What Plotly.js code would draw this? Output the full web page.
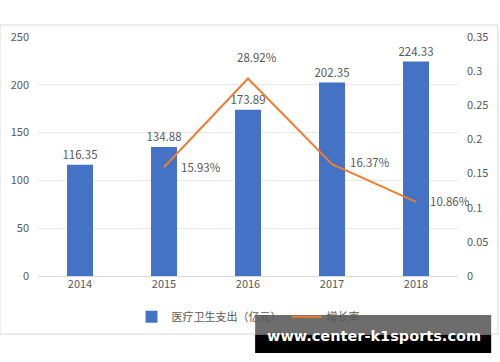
<!DOCTYPE html>
<html><head><meta charset="utf-8">
<script src="https://cdn.plot.ly/plotly-3.0.1.min.js"></script>
<style>html,body{margin:0;padding:0;background:#fff;}#c{width:500px;height:362px;}</style>
</head><body><div id="c"></div>
<script>
const years = ['2014','2015','2016','2017','2018'];
const spending = [116.35, 134.88, 173.89, 202.35, 224.33];
const rateYears = ['2015','2016','2017','2018'];
const growth = [0.1593, 0.2892, 0.1637, 0.1086];
const growthLabels = ['15.93%','28.92%','16.37%','10.86%'];
const barName = '医疗卫生支出（亿元）';
const lineName = '增长率';

const font = {family: '"Noto Sans CJK SC", "Open Sans", sans-serif', size: 11, color: '#595959'};
const labelFont = {family: '"Noto Sans CJK SC", "Open Sans", sans-serif', size: 11.5, color: '#595959'};

const labelPos = [{xs:37,ys:0},{xs:9,ys:22},{xs:38,ys:2},{xs:34,ys:1}];
const annotations = growth.map((v,i)=>({
  x: years.indexOf(rateYears[i]), y: v, xref:'x', yref:'y2', text: growthLabels[i], showarrow:false,
  xshift: labelPos[i].xs, yshift: labelPos[i].ys, font: labelFont
}));
annotations.push({xref:'paper', yref:'paper', x:0.8, y:-0.25, text:'<b>www.center-k1sports.com</b>', showarrow:false,
  font:{family:'"DejaVu Sans", sans-serif', size:14.5, color:'#ffffff'}, xanchor:'center', yanchor:'middle'});

const data = [
  {type:'bar', x: years, y: spending, name: barName, marker:{color:'#4472C4'},
   text: spending.map(v=>v.toFixed(2)), textposition:'outside', cliponaxis:false, constraintext:'none',
   textfont: labelFont, hoverinfo:'none'},
  {type:'scatter', mode:'lines', x: rateYears, y: growth, yaxis:'y2', name: lineName,
   line:{color:'#ED7D31', width:2}, hoverinfo:'none'}
];

const layout = {
  width:500, height:362, margin:{l:38, r:42, t:37, b:86},
  paper_bgcolor:'#ffffff', plot_bgcolor:'#ffffff', font: font,
  showlegend:true,
  legend:{orientation:'h', x:0.5, xanchor:'center', y:-0.17, yanchor:'middle', font:font, bgcolor:'rgba(0,0,0,0)'},
  xaxis:{type:'category', categoryorder:'array', categoryarray:years, range:[-0.5,4.5], autorange:false,
         showgrid:false, zeroline:false, showline:false, ticks:'', tickfont:font},
  yaxis:{range:[0,250], dtick:50, showgrid:true, gridcolor:'#e8e8e8', zeroline:true, zerolinecolor:'#d9d9d9', ticks:'', tickfont:font, ticklabelstandoff:8},
  yaxis2:{range:[0,0.35], dtick:0.05, overlaying:'y', side:'right', showgrid:false, zeroline:false, ticks:'', tickfont:font, ticklabelstandoff:8},
  bargap:0.69,
  annotations: annotations,
  shapes:[
    {type:'rect', xref:'paper', yref:'paper', x0:-0.0905, x1:1.095, y0:-0.243, y1:1.05, line:{color:'#d9d9d9', width:1}, layer:'below'},
    {type:'rect', xref:'paper', yref:'paper', x0:0.517, x1:1.079, y0:-0.247, y1:-0.163, fillcolor:'rgba(60,60,60,0.75)', line:{width:0}, layer:'above'},
    {type:'rect', xref:'paper', yref:'paper', x0:0.517, x1:1.079, y0:-0.322, y1:-0.247, fillcolor:'#000000', line:{width:0}, layer:'above'}
  ]
};
Plotly.newPlot('c', data, layout, {displayModeBar:false, staticPlot:true});
</script></body></html>
